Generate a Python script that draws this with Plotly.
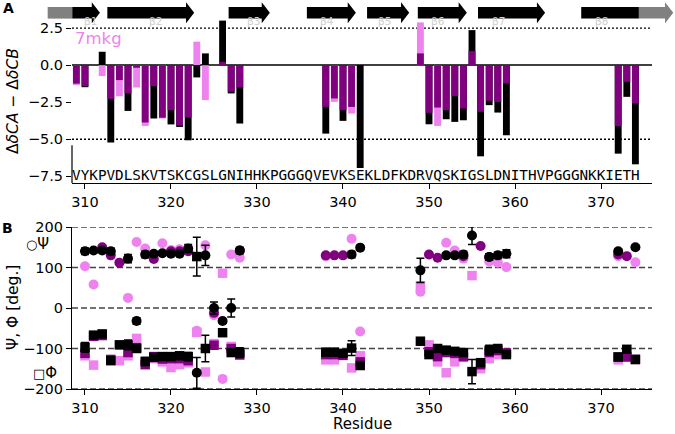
import plotly.graph_objects as go

# ---------------- data ----------------
residues_a = [309, 310, 312, 313, 314, 315, 316, 317, 318, 319, 320, 321, 322, 323, 324,
              326, 327, 328, 338, 339, 340, 341, 342, 349, 350, 351, 352, 353, 354, 355,
              356, 357, 358, 359, 372, 373, 374]
purple_a = [-1.25, -1.42, None, -2.28, -1.01, -1.91, -0.18, -3.87, -1.42, -3.55, -3.04, -4.05, -3.53, None, None,
            0.22, -1.80, -1.51, -2.82, -2.25, -3.04, -2.82, None, 0.79, -3.22, -2.86, -3.04, -2.09, -2.93, 0.95,
            -3.15, -2.41, -2.48, -1.24, -4.12, -1.13, -2.59]
black_a = [None, -1.49, 0.90, -5.22, None, -3.09, None, None, -3.60, None, -4.00, -4.17, -5.07, -0.83, 0.79,
           3.00, -1.91, -3.94, -4.62, None, -3.76, None, -6.94, None, -3.99, None, -3.65, -3.83, -3.72, 2.36,
           -6.15, -2.70, -3.20, -4.73, -5.97, -2.14, -6.69]
violet_a = [-1.35, None, -0.74, None, -2.10, None, -1.51, -4.10, None, -3.60, None, None, None, 1.58, -2.36,
            None, None, None, None, -2.48, None, -3.27, None, 2.88, None, -4.10, None, None, None, None,
            None, None, None, None, None, None, None]

sequence = "VYKPVDLSKVTSKCGSLGNIHHKPGGGQVEVKSEKLDFKDRVQSKIGSLDNITHVPGGGNKKIETH"
seq_start = 309

residues_b = list(range(310, 329)) + list(range(338, 343)) + list(range(349, 360)) + [372, 373, 374]
psi_black = [140, 142, 142, 140, None, 122, -32, 132, 134, 135, 134, 134, 147, -160, 130, 0, -32, 0, 142,
             None, None, None, 132, 149,
             93, None, None, 130, 130, 132, 179, None, 126, 130, 134,
             140, None, 150]
psi_black_err = [8, 5, 5, 8, 0, 10, 8, 8, 5, 5, 5, 5, 10, 38, 25, 15, 5, 22, 8,
                 0, 0, 0, 8, 5,
                 30, 0, 0, 5, 5, 8, 22, 0, 8, 8, 10,
                 5, 0, 5]
phi_black = [-97, -67, -64, -130, -91, -91, -100, -132, -122, -120, -120, -118, -120, 127, -100, None, -61, -110, -110,
             -109, -109, -112, -99, -142,
             -82, -115, -100, -104, -107, -110, -157, -135, -104, -100, -115,
             -121, -102, -127]
phi_black_err = [12, 5, 5, 8, 8, 12, 8, 10, 5, 5, 8, 8, 10, 48, 33, 0, 5, 8, 12,
                 5, 5, 5, 18, 5,
                 5, 5, 5, 5, 5, 5, 30, 5, 12, 8, 5,
                 5, 5, 5]
psi_purple = [None, None, 150, 130, 112, None, None, None, 121, None, 140, 140, 140, None, None, -12, None, None, 142,
              130, 130, 130, None, None,
              None, 132, 124, None, None, 128, None, 153, 126, None, None,
              132, 128, None]
phi_purple = [-112, -70, -68, -127, None, -110, -98, -140, -120, -126, -125, -125, -130, None, None, -92, None, -100, -116,
              -115, -115, -117, None, -133,
              None, -108, -120, -110, -112, -120, None, -140, -110, -105, -111,
              -121, -121, -127]
psi_violet = [103, 58, None, None, None, 25, 163, 147, None, 160, 143, 145, 140, -56, 155, -18, -175, 132, 124,
              127, None, None, 171, -58,
              40, None, None, 161, 142, 122, None, None, 115, 112, 101,
              128, None, 113]
phi_violet = [-118, -141, None, None, -130, -118, -75, None, -125, -133, -147, -140, -135, -60, -158, -88, 86, -95, None,
              -128, -128, None, -148, -118,
              55, -91, -133, -160, -133, -122, 80, -150, -125, -115, None,
              -128, -120, None]

strands = [("β1", 308.52, 311.74), ("β2", 312.6, 322.7), ("β3", 326.7, 331.5),
           ("β4", 335.8, 341.5), ("β5", 342.8, 347.7), ("β6", 348.7, 354.4),
           ("β7", 355.7, 363.5)]
termini = [(305.66, 308.52), (374.4, 378.4)]
strand8 = ("β8", 367.7, 374.4)

x_ticks = [310, 320, 330, 340, 350, 360, 370]
ya_ticks = [2.5, 0.0, -2.5, -5.0, -7.5]
ya_text = ["2.5", "0.0", "−2.5", "−5.0", "−7.5"]
yb_ticks = [200, 100, 0, -100, -200]
yb_text = ["200", "100", "0", "−100", "−200"]

# ---------------- style ----------------
PURPLE = "#800080"
VIOLET = "#ee82ee"
BLACK = "#000000"
GRAY = "#808080"
FONT = "DejaVu Sans"

W, H = 675, 434
ML, MR, MT, MB = 72, 23, 0, 45
PH = H - MT - MB
X_RANGE = [308.49, 375.93]


def xp(r):
    return (r - X_RANGE[0]) / (X_RANGE[1] - X_RANGE[0])


def yp(py):
    return (PH - py) / PH


fig = go.Figure()

# panel A bars
for vals, col in [(violet_a, VIOLET), (black_a, BLACK), (purple_a, PURPLE)]:
    fig.add_trace(go.Bar(x=residues_a, y=vals, width=0.8, marker=dict(color=col, line=dict(width=0)),
                         xaxis="x", yaxis="y", showlegend=False))

fig.add_trace(go.Scatter(x=list(range(seq_start, seq_start + len(sequence))), y=[-7.5] * len(sequence),
                         mode="text", text=list(sequence),
                         textfont=dict(family="DejaVu Sans Mono", size=14.3, color="black"),
                         xaxis="x", yaxis="y", cliponaxis=False, showlegend=False))


# panel B
def sc(y, col, sym, err=None):
    d = dict(x=residues_b, y=y, mode="markers", xaxis="x2", yaxis="y2", showlegend=False,
             marker=dict(color=col, symbol=sym, size=10 if sym == "circle" else 9.5, line=dict(width=0)))
    if err is not None:
        d["error_y"] = dict(type="data", array=err, visible=True, color=col, thickness=1.5, width=4)
    return go.Scatter(**d)


fig.add_trace(sc(phi_violet, VIOLET, "square"))
fig.add_trace(sc(psi_violet, VIOLET, "circle"))
fig.add_trace(sc(phi_purple, PURPLE, "square"))
fig.add_trace(sc(psi_purple, PURPLE, "circle"))
fig.add_trace(sc(phi_black, BLACK, "square", phi_black_err))
fig.add_trace(sc(psi_black, BLACK, "circle", psi_black_err))

shapes = []
shapes.append(dict(type="line", xref="paper", yref="y", x0=0, x1=1, y0=0, y1=0,
                   line=dict(color="black", width=1.5), layer="below"))
for yv in [2.5, -5.0]:
    shapes.append(dict(type="line", xref="paper", yref="y", x0=0, x1=1, y0=yv, y1=yv,
                       line=dict(color="black", width=1.3, dash="2px,2px"), layer="below"))
shapes.append(dict(type="line", xref="paper", yref="y", x0=0, x1=0, y0=-7.95, y1=-5.4,
                   line=dict(color="black", width=1.2)))
for yv in yb_ticks:
    shapes.append(dict(type="line", xref="paper", yref="y2", x0=0, x1=1, y0=yv, y1=yv,
                       line=dict(color="#444444", width=1.5, dash="6px,3px"), layer="below"))

# strand arrows
YC, BH, HH = 12.8, 5.8, 10.5
HEAD = 0.95


def arrow_path(r0, r1, head=True):
    x0, x1 = xp(r0), xp(r1)
    yt, yb_ = yp(YC - BH), yp(YC + BH)
    if not head:
        return f"M{x0},{yt} L{x1},{yt} L{x1},{yb_} L{x0},{yb_} Z"
    xh = xp(r1 - HEAD)
    return (f"M{x0},{yt} L{xh},{yt} L{xh},{yp(YC - HH)} L{x1},{yp(YC)} "
            f"L{xh},{yp(YC + HH)} L{xh},{yb_} L{x0},{yb_} Z")


annotations = []
shapes.append(dict(type="path", xref="paper", yref="paper", path=arrow_path(*termini[0], head=False),
                   fillcolor=GRAY, line=dict(width=0)))
shapes.append(dict(type="path", xref="paper", yref="paper", path=arrow_path(*termini[1], head=True),
                   fillcolor=GRAY, line=dict(width=0)))
for lab, r0, r1 in strands:
    shapes.append(dict(type="path", xref="paper", yref="paper", path=arrow_path(r0, r1),
                       fillcolor="black", line=dict(width=0)))
    annotations.append(dict(text=lab, xref="paper", yref="paper", x=xp((r0 + r1 - HEAD) / 2), y=yp(YC),
                            showarrow=False, font=dict(size=10.5, color="#d0d0d0", family=FONT)))
lab, r0, r1 = strand8
shapes.append(dict(type="path", xref="paper", yref="paper", path=arrow_path(r0, r1, head=False),
                   fillcolor="black", line=dict(width=0)))
annotations.append(dict(text=lab, xref="paper", yref="paper", x=xp((r0 + r1) / 2), y=yp(YC),
                        showarrow=False, font=dict(size=10.5, color="#d0d0d0", family=FONT)))


def ann(text, px, py, size, color="black", xanchor="center", angle=0, bold=False):
    annotations.append(dict(text=f"<b>{text}</b>" if bold else text, xref="paper", yref="paper",
                            x=(px - ML) / (W - ML - MR), y=yp(py), showarrow=False, textangle=angle,
                            xanchor=xanchor, yanchor="middle",
                            font=dict(size=size, color=color, family=FONT)))


ann("A", 8, 8, 14, bold=True)
ann("B", 7, 228, 14, bold=True)
ann("7mkg", 73, 38.5, 16.5, color=VIOLET, xanchor="left")
ann("Δ<i>δCA</i> − Δ<i>δCB</i>", 13, 101, 15.5, angle=-90)
ann("Ψ, Φ [deg.]", 13, 308, 15.5, angle=-90)
ann("<span style='font-size:13px'>○</span>Ψ", 37, 244, 15)
ann("<span style='font-size:13px'>□</span>Φ", 45, 373, 15)
ann("Residue", 362, 424, 15)

axis_common = dict(showgrid=False, zeroline=False, ticks="outside", ticklen=5, tickwidth=1.2,
                   tickcolor="black", tickfont=dict(size=14.5, family=FONT, color="black"))

fig.update_layout(
    width=W, height=H, margin=dict(l=ML, r=MR, t=MT, b=MB, autoexpand=False),
    paper_bgcolor="white", plot_bgcolor="white", barmode="overlay",
    font=dict(family=FONT, color="black"),
    xaxis=dict(domain=[0, 1], range=X_RANGE, anchor="y", tickvals=x_ticks, showline=True,
               linecolor="black", linewidth=1.2, **axis_common),
    yaxis=dict(domain=[yp(183), 1], range=[-7.95, 4.39], anchor="x", tickvals=ya_ticks, ticktext=ya_text,
               showline=False, **axis_common),
    xaxis2=dict(domain=[0, 1], range=X_RANGE, anchor="y2", tickvals=x_ticks, showline=True,
                linecolor="black", linewidth=1.2, **axis_common),
    yaxis2=dict(domain=[0, yp(227)], range=[-200, 200], anchor="x2", tickvals=yb_ticks, ticktext=yb_text,
                showline=True, linecolor="black", linewidth=1.2, **axis_common),
    shapes=shapes, annotations=annotations,
)

fig.write_html("out.html", config={"displayModeBar": False},
               post_script="document.body.style.margin='0px';document.body.style.overflow='hidden';")
